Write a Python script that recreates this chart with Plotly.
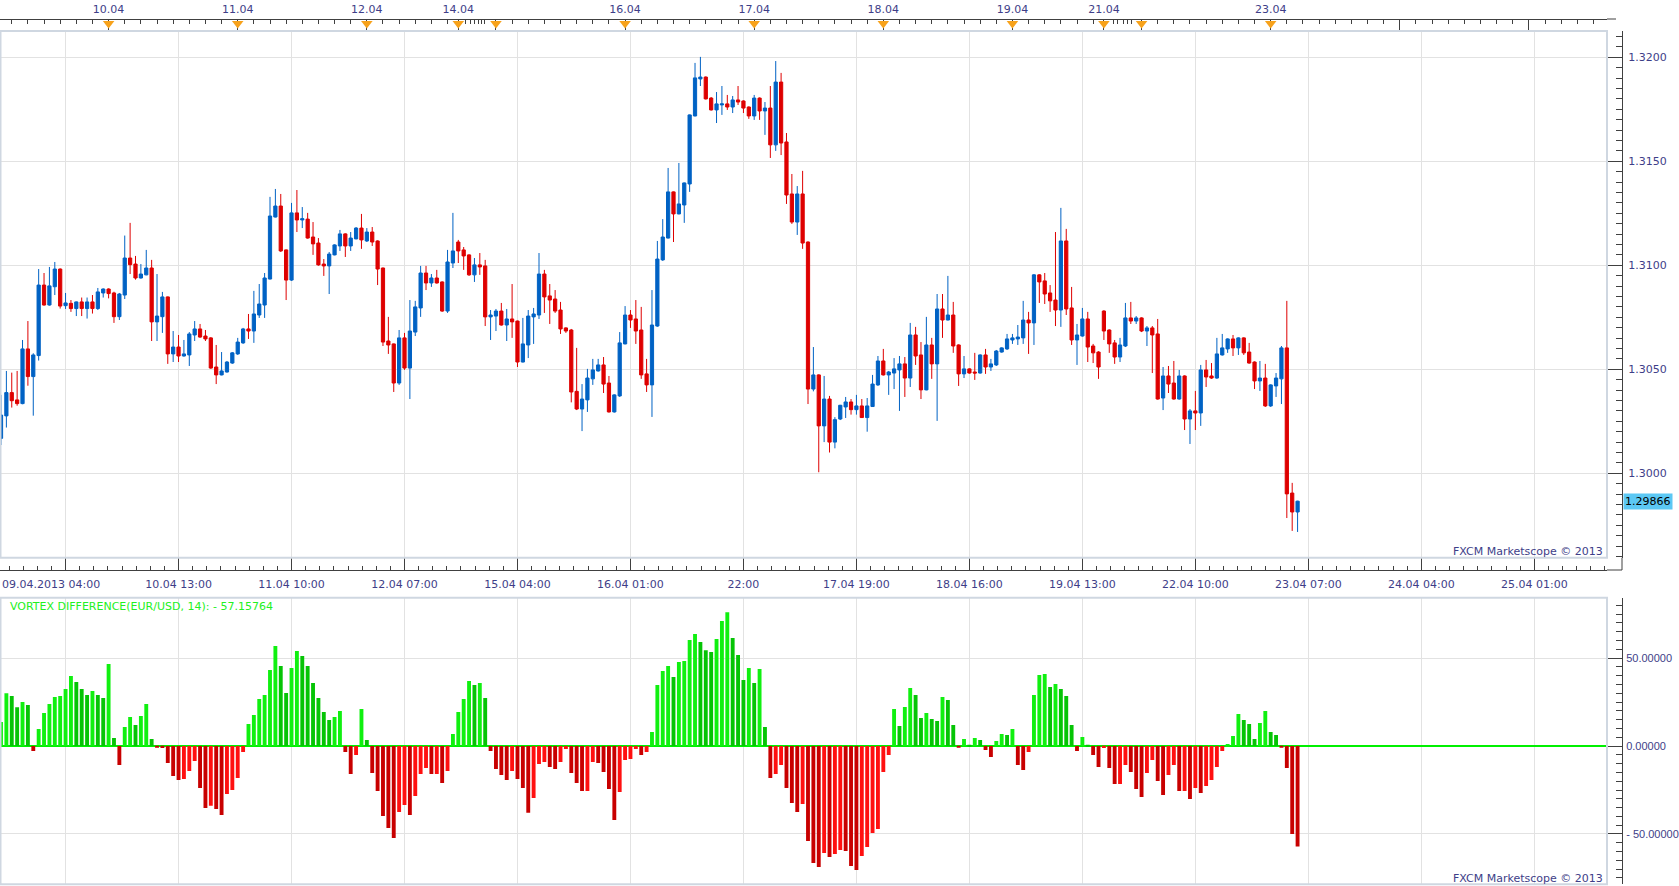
import plotly.graph_objects as go

W, H = 1679, 886

# ---------------- data (EUR/USD hourly, 09.04.2013 04:00 .. 23.04.2013) ----------------
opens = [1.30168, 1.30276, 1.30388, 1.30353, 1.30335, 1.30598, 1.30465, 1.30566, 1.30905, 1.30809,
         1.30897, 1.30982, 1.30806, 1.30817, 1.30792, 1.30824, 1.30792, 1.30824, 1.30792, 1.30867,
         1.30886, 1.30867, 1.30753, 1.30857, 1.31035, 1.31006, 1.30939, 1.30954, 1.30987, 1.30728,
         1.30753, 1.30848, 1.30574, 1.30607, 1.30564, 1.30569, 1.30665, 1.30694, 1.30660, 1.30651,
         1.30511, 1.30473, 1.30487, 1.30530, 1.30574, 1.30627, 1.30694, 1.30684, 1.30761, 1.30809,
         1.30934, 1.31232, 1.31285, 1.31074, 1.30929, 1.31252, 1.31218, 1.31222, 1.31136, 1.31107,
         1.31006, 1.30997, 1.31050, 1.31093, 1.31151, 1.31093, 1.31127, 1.31179, 1.31117, 1.31160,
         1.31117, 1.30987, 1.30636, 1.30622, 1.30434, 1.30651, 1.30506, 1.30679, 1.30795, 1.30963,
         1.30915, 1.30939, 1.30920, 1.30780, 1.31011, 1.31112, 1.31074, 1.31050, 1.30954, 1.31002,
         1.30997, 1.30752, 1.30756, 1.30780, 1.30713, 1.30742, 1.30732, 1.30535, 1.30617, 1.30752,
         1.30761, 1.30958, 1.30853, 1.30838, 1.30785, 1.30699, 1.30689, 1.30394, 1.30309, 1.30353,
         1.30454, 1.30492, 1.30521, 1.30434, 1.30295, 1.30372, 1.30622, 1.30761, 1.30742, 1.30689,
         1.30478, 1.30425, 1.30708, 1.31026, 1.31131, 1.31353, 1.31247, 1.31290, 1.31391, 1.31718,
         1.31896, 1.31905, 1.31804, 1.31747, 1.31771, 1.31776, 1.31761, 1.31795, 1.31790, 1.31761,
         1.31718, 1.31804, 1.31742, 1.31756, 1.31579, 1.31881, 1.31593, 1.31343, 1.31208, 1.31343,
         1.31112, 1.30405, 1.30473, 1.30228, 1.30357, 1.30150, 1.30261, 1.30319, 1.30343, 1.30306,
         1.30324, 1.30268, 1.30321, 1.30425, 1.30540, 1.30473, 1.30482, 1.30497, 1.30526, 1.30458,
         1.30665, 1.30569, 1.30401, 1.30617, 1.30526, 1.30790, 1.30737, 1.30761, 1.30617, 1.30478,
         1.30502, 1.30487, 1.30482, 1.30569, 1.30511, 1.30521, 1.30583, 1.30598, 1.30641, 1.30646,
         1.30651, 1.30737, 1.30723, 1.30954, 1.30925, 1.30867, 1.30833, 1.30785, 1.31117, 1.30795,
         1.30641, 1.30660, 1.30742, 1.30612, 1.30583, 1.30780, 1.30689, 1.30627, 1.30559, 1.30612,
         1.30747, 1.30732, 1.30747, 1.30684, 1.30699, 1.30670, 1.30362, 1.30468, 1.30434, 1.30357,
         1.30468, 1.30261, 1.30300, 1.30290, 1.30497, 1.30468, 1.30458, 1.30569, 1.30598, 1.30646,
         1.30603, 1.30651, 1.30583, 1.30535, 1.30444, 1.30458, 1.30324, 1.30420, 1.30454, 1.30603,
         1.29905, 1.29814]
highs = [1.30377, 1.30492, 1.30484, 1.30492, 1.30641, 1.30732, 1.30577, 1.30982, 1.30963, 1.30992,
         1.31016, 1.30985, 1.30867, 1.30833, 1.30826, 1.30845, 1.30845, 1.30857, 1.30891, 1.30889,
         1.30889, 1.30873, 1.30867, 1.31143, 1.31204, 1.31045, 1.31006, 1.31074, 1.31026, 1.30958,
         1.30872, 1.30850, 1.30684, 1.30665, 1.30641, 1.30679, 1.30732, 1.30718, 1.30689, 1.30655,
         1.30617, 1.30583, 1.30540, 1.30583, 1.30651, 1.30699, 1.30766, 1.30877, 1.30910, 1.30963,
         1.31329, 1.31367, 1.31343, 1.31076, 1.31300, 1.31362, 1.31280, 1.31252, 1.31208, 1.31131,
         1.31030, 1.31064, 1.31101, 1.31170, 1.31154, 1.31160, 1.31184, 1.31247, 1.31179, 1.31184,
         1.31120, 1.30989, 1.30752, 1.30624, 1.30689, 1.30675, 1.30833, 1.30829, 1.30997, 1.30997,
         1.30958, 1.30978, 1.30923, 1.31074, 1.31252, 1.31122, 1.31088, 1.31053, 1.31035, 1.31059,
         1.31026, 1.30785, 1.30790, 1.30819, 1.30790, 1.30910, 1.30734, 1.30747, 1.30785, 1.30795,
         1.31059, 1.30978, 1.30910, 1.30881, 1.30824, 1.30702, 1.30694, 1.30603, 1.30429, 1.30502,
         1.30550, 1.30550, 1.30559, 1.30468, 1.30380, 1.30679, 1.30804, 1.30785, 1.30833, 1.30800,
         1.30550, 1.30881, 1.31117, 1.31222, 1.31468, 1.31355, 1.31492, 1.31398, 1.31725, 1.31973,
         1.32002, 1.31908, 1.31809, 1.31833, 1.31862, 1.31819, 1.31814, 1.31862, 1.31793, 1.31764,
         1.31819, 1.31807, 1.31785, 1.31862, 1.31982, 1.31925, 1.31636, 1.31439, 1.31381, 1.31454,
         1.31115, 1.30607, 1.30476, 1.30468, 1.30372, 1.30270, 1.30329, 1.30367, 1.30357, 1.30377,
         1.30357, 1.30362, 1.30473, 1.30564, 1.30598, 1.30492, 1.30554, 1.30564, 1.30559, 1.30723,
         1.30704, 1.30631, 1.30752, 1.30651, 1.30862, 1.30862, 1.30949, 1.30824, 1.30620, 1.30564,
         1.30505, 1.30579, 1.30572, 1.30598, 1.30550, 1.30593, 1.30606, 1.30670, 1.30670, 1.30713,
         1.30829, 1.30776, 1.30958, 1.30957, 1.30963, 1.30905, 1.31160, 1.31276, 1.31175, 1.30896,
         1.30718, 1.30795, 1.30776, 1.30622, 1.30587, 1.30784, 1.30692, 1.30641, 1.30651, 1.30819,
         1.30824, 1.30756, 1.30750, 1.30708, 1.30708, 1.30742, 1.30511, 1.30516, 1.30540, 1.30497,
         1.30471, 1.30309, 1.30396, 1.30521, 1.30545, 1.30530, 1.30651, 1.30670, 1.30649, 1.30665,
         1.30654, 1.30654, 1.30627, 1.30538, 1.30540, 1.30526, 1.30428, 1.30482, 1.30612, 1.30829,
         1.29954, 1.29868]
lows = [1.30136, 1.30220, 1.30316, 1.30325, 1.30332, 1.30421, 1.30277, 1.30542, 1.30806, 1.30806,
        1.30857, 1.30792, 1.30790, 1.30776, 1.30756, 1.30756, 1.30744, 1.30768, 1.30785, 1.30845,
        1.30841, 1.30723, 1.30737, 1.30838, 1.30958, 1.30931, 1.30936, 1.30952, 1.30636, 1.30636,
        1.30675, 1.30526, 1.30535, 1.30535, 1.30561, 1.30516, 1.30636, 1.30651, 1.30636, 1.30502,
        1.30429, 1.30471, 1.30484, 1.30526, 1.30569, 1.30622, 1.30646, 1.30627, 1.30747, 1.30747,
        1.30932, 1.31230, 1.31064, 1.30833, 1.30925, 1.31160, 1.31179, 1.31128, 1.31050, 1.30998,
        1.30949, 1.30862, 1.31048, 1.31069, 1.31040, 1.31069, 1.31125, 1.31079, 1.31112, 1.31093,
        1.30905, 1.30612, 1.30574, 1.30391, 1.30425, 1.30497, 1.30357, 1.30660, 1.30752, 1.30881,
        1.30896, 1.30912, 1.30776, 1.30771, 1.30987, 1.31011, 1.30978, 1.30949, 1.30920, 1.30954,
        1.30708, 1.30641, 1.30684, 1.30710, 1.30636, 1.30651, 1.30511, 1.30533, 1.30554, 1.30622,
        1.30742, 1.30771, 1.30718, 1.30771, 1.30670, 1.30675, 1.30341, 1.30304, 1.30203, 1.30295,
        1.30425, 1.30489, 1.30386, 1.30292, 1.30292, 1.30367, 1.30620, 1.30699, 1.30622, 1.30454,
        1.30391, 1.30271, 1.30704, 1.31021, 1.31129, 1.31112, 1.31245, 1.31204, 1.31353, 1.31716,
        1.31862, 1.31797, 1.31744, 1.31684, 1.31723, 1.31747, 1.31732, 1.31771, 1.31732, 1.31704,
        1.31699, 1.31699, 1.31627, 1.31516, 1.31550, 1.31530, 1.31295, 1.31199, 1.31146, 1.31079,
        1.30333, 1.30394, 1.30005, 1.30150, 1.30100, 1.30120, 1.30256, 1.30266, 1.30282, 1.30282,
        1.30266, 1.30200, 1.30319, 1.30420, 1.30470, 1.30377, 1.30405, 1.30300, 1.30367, 1.30415,
        1.30521, 1.30357, 1.30399, 1.30454, 1.30252, 1.30651, 1.30735, 1.30579, 1.30420, 1.30458,
        1.30479, 1.30449, 1.30479, 1.30478, 1.30492, 1.30516, 1.30580, 1.30593, 1.30622, 1.30617,
        1.30622, 1.30574, 1.30617, 1.30819, 1.30814, 1.30776, 1.30708, 1.30704, 1.30761, 1.30617,
        1.30521, 1.30657, 1.30535, 1.30530, 1.30454, 1.30641, 1.30579, 1.30526, 1.30535, 1.30607,
        1.30718, 1.30718, 1.30679, 1.30612, 1.30482, 1.30354, 1.30304, 1.30386, 1.30354, 1.30354,
        1.30208, 1.30141, 1.30208, 1.30228, 1.30415, 1.30454, 1.30454, 1.30566, 1.30579, 1.30564,
        1.30569, 1.30569, 1.30527, 1.30405, 1.30396, 1.30319, 1.30319, 1.30367, 1.30333, 1.29785,
        1.29723, 1.29718]
closes = [1.30280, 1.30388, 1.30349, 1.30335, 1.30598, 1.30465, 1.30569, 1.30905, 1.30809, 1.30901,
          1.30982, 1.30804, 1.30819, 1.30792, 1.30824, 1.30792, 1.30824, 1.30792, 1.30872, 1.30886,
          1.30864, 1.30753, 1.30862, 1.31035, 1.31003, 1.30939, 1.30958, 1.30987, 1.30728, 1.30756,
          1.30848, 1.30574, 1.30607, 1.30564, 1.30574, 1.30670, 1.30694, 1.30655, 1.30646, 1.30506,
          1.30473, 1.30492, 1.30535, 1.30579, 1.30631, 1.30694, 1.30684, 1.30766, 1.30814, 1.30939,
          1.31237, 1.31285, 1.31069, 1.30929, 1.31252, 1.31218, 1.31224, 1.31131, 1.31103, 1.31002,
          1.30997, 1.31054, 1.31098, 1.31151, 1.31093, 1.31131, 1.31179, 1.31122, 1.31160, 1.31112,
          1.30982, 1.30631, 1.30617, 1.30434, 1.30651, 1.30506, 1.30684, 1.30800, 1.30963, 1.30915,
          1.30939, 1.30915, 1.30780, 1.31016, 1.31069, 1.31069, 1.31045, 1.30954, 1.31002, 1.30992,
          1.30752, 1.30761, 1.30780, 1.30713, 1.30742, 1.30728, 1.30535, 1.30622, 1.30756, 1.30766,
          1.30958, 1.30848, 1.30833, 1.30780, 1.30694, 1.30684, 1.30391, 1.30309, 1.30357, 1.30458,
          1.30497, 1.30521, 1.30429, 1.30295, 1.30377, 1.30627, 1.30761, 1.30737, 1.30684, 1.30473,
          1.30425, 1.30713, 1.31030, 1.31136, 1.31353, 1.31247, 1.31295, 1.31396, 1.31723, 1.31901,
          1.31905, 1.31800, 1.31747, 1.31776, 1.31776, 1.31761, 1.31795, 1.31785, 1.31756, 1.31718,
          1.31804, 1.31742, 1.31756, 1.31579, 1.31881, 1.31588, 1.31338, 1.31208, 1.31343, 1.31107,
          1.30405, 1.30473, 1.30228, 1.30357, 1.30150, 1.30258, 1.30327, 1.30343, 1.30306, 1.30324,
          1.30268, 1.30324, 1.30429, 1.30540, 1.30473, 1.30487, 1.30502, 1.30526, 1.30458, 1.30665,
          1.30564, 1.30401, 1.30617, 1.30526, 1.30790, 1.30737, 1.30761, 1.30612, 1.30478, 1.30502,
          1.30482, 1.30482, 1.30569, 1.30511, 1.30526, 1.30588, 1.30603, 1.30646, 1.30651, 1.30655,
          1.30737, 1.30723, 1.30954, 1.30920, 1.30862, 1.30829, 1.30785, 1.31117, 1.30790, 1.30641,
          1.30665, 1.30742, 1.30607, 1.30579, 1.30511, 1.30684, 1.30622, 1.30559, 1.30617, 1.30747,
          1.30732, 1.30747, 1.30684, 1.30699, 1.30665, 1.30357, 1.30468, 1.30429, 1.30357, 1.30468,
          1.30261, 1.30300, 1.30290, 1.30497, 1.30463, 1.30458, 1.30574, 1.30603, 1.30646, 1.30603,
          1.30651, 1.30579, 1.30530, 1.30444, 1.30458, 1.30324, 1.30425, 1.30458, 1.30603, 1.29901,
          1.29814, 1.29866]
vortex = [13.6, 30.0, 28.4, 22.0, 25.0, 23.3, -2.8, 9.7, 18.8, 23.9,
          27.8, 28.4, 32.4, 39.8, 36.4, 32.4, 29.0, 31.3, 29.0, 27.3,
          46.6, 4.5, -10.8, 10.8, 16.5, 11.9, 17.0, 23.9, 4.0, -0.6,
          -1.1, -9.7, -17.0, -19.3, -18.8, -14.2, -8.5, -23.9, -35.2, -34.0,
          -35.8, -39.2, -27.3, -25.0, -18.2, -3.4, 12.5, 17.6, 26.7, 29.0,
          43.2, 56.8, 45.5, 30.1, 44.3, 54.0, 51.1, 45.5, 35.8, 27.3,
          19.3, 14.8, 16.5, 19.9, -3.4, -15.9, -5.1, 21.0, 3.4, -15.3,
          -25.6, -39.8, -46.6, -52.3, -37.5, -33.5, -39.2, -28.4, -15.9, -12.5,
          -15.9, -15.9, -21.0, -14.2, 6.8, 19.3, 26.7, 36.9, 34.7, 35.8,
          27.3, -2.8, -13.1, -16.5, -19.3, -14.2, -18.8, -23.9, -38.0, -29.5,
          -10.2, -9.1, -11.9, -13.1, -9.1, -1.7, -15.3, -21.0, -25.6, -25.6,
          -9.1, -9.7, -14.8, -24.4, -42.0, -26.1, -8.0, -7.4, -1.7, -5.1,
          -3.4, 8.0, 34.7, 42.6, 45.5, 39.2, 47.7, 48.3, 60.2, 63.6,
          59.1, 54.5, 53.4, 60.8, 71.0, 76.1, 61.4, 51.7, 37.5, 44.3,
          35.8, 43.8, 10.8, -18.2, -15.9, -10.8, -23.9, -32.4, -37.5, -33.0,
          -54.0, -66.5, -68.8, -60.8, -63.1, -61.4, -59.1, -59.7, -68.2, -70.5,
          -62.5, -57.4, -49.4, -47.2, -14.8, -5.1, 21.0, 11.4, 22.2, 33.0,
          29.0, 15.9, 18.8, 15.3, 14.2, 27.8, 26.1, 11.9, -0.6, 4.0,
          0.6, 4.5, 3.4, -2.3, -6.3, 2.8, 6.8, 6.3, 9.7, -10.8,
          -13.6, -3.4, 29.0, 40.3, 40.9, 33.5, 35.2, 32.4, 28.4, 11.9,
          -2.8, 5.1, 0.6, -5.1, -11.9, -1.1, -12.5, -21.6, -21.6, -10.8,
          -14.8, -24.4, -29.0, -15.3, -8.0, -19.9, -27.8, -16.5, -10.8, -25.6,
          -25.6, -30.1, -23.9, -26.7, -22.7, -19.3, -11.9, -2.8, 1.1, 5.7,
          18.2, 14.8, 12.5, 4.0, 13.1, 19.9, 8.0, 6.3, -0.6, -12.5,
          -50.0, -57.16]

# time axis: bar index of gridlines / labels (hourly bars, weekend removed)
grid_idx = [12, 33, 54, 75, 96, 117, 138, 159, 180, 201, 222, 243, 264, 285]
grid_labels = ["", "10.04 13:00", "11.04 10:00", "12.04 07:00", "15.04 04:00", "16.04 01:00",
               "22:00", "17.04 19:00", "18.04 16:00", "19.04 13:00", "22.04 10:00",
               "23.04 07:00", "24.04 04:00", "25.04 01:00"]
first_label = "09.04.2013 04:00"
day_idx = [20, 44, 68, 85, 92, 116, 140, 164, 188, 205, 212, 236, 260, 284]
day_labels = ["10.04", "11.04", "12.04", "14.04", "", "16.04", "17.04", "18.04", "19.04",
              "21.04", "", "23.04", "", ""]
session_marks = [20, 44, 68, 85, 92, 116, 140, 164, 188, 205, 212, 236]
price_ticks = [1.3000, 1.3050, 1.3100, 1.3150, 1.3200]
ind_ticks = [-50, 0, 50]
ind_ticktext = ["- 50.00000", "0.00000", "50.00000"]
title_text = "VORTEX DIFFERENCE(EUR/USD, 14): - 57.15764"
copyright_text = "FXCM Marketscope © 2013"

# ---------------- styling / geometry ----------------
BLUE = "#0062C4"
RED = "#DE0000"
GRID = "#E2E2E2"
FRAME = "#CFD7E1"
AX = "#404040"
LABEL = "#3E3E88"
FONT = "DejaVu Sans, Verdana, sans-serif"
NARROW_FONT = "Liberation Sans, Arial, sans-serif"


def px(x):
    return x / W


def py(y):
    return 1 - y / H


BAR_PX = 5.38
x0 = -1.0 / BAR_PX
x1 = x0 + 1607 / BAR_PX
xr = [x0, x1]
xdom = [0, px(1607)]

price_top = 1.3200 + (57.3 - 31) / 20800
price_bot = 1.3200 - (557.7 - 57.3) / 20800

idx = list(range(len(closes)))

# histogram colours: bright when rising, dark when falling
bar_colors = []
for i, v in enumerate(vortex):
    prev = vortex[i - 1] if i > 0 else v - 1
    if v >= 0:
        bar_colors.append("#10F010" if v >= prev else "#05C405")
    else:
        bar_colors.append("#C80000" if v < prev else "#FF1010")

# minor ticks
minor_bottom = [12 + 2.625 * k for k in range(-4, 112) if k % 8 != 0]
minor_bottom = [t for t in minor_bottom if x0 <= t <= x1]
minor_top = [i for i in range(0, 299) if i % 3 == 2 and i not in day_idx
             and not (85 < i < 92) and not (205 < i < 212)]
minor_top += [86.4, 87.2, 88.0, 88.7, 89.3, 89.9, 206.7, 207.6, 208.7, 209.3, 210.2]

fig = go.Figure()

fig.add_trace(go.Candlestick(
    x=idx, open=opens, high=highs, low=lows, close=closes,
    increasing=dict(line=dict(color=BLUE, width=1), fillcolor=BLUE),
    decreasing=dict(line=dict(color=RED, width=1), fillcolor=RED),
    whiskerwidth=0, xaxis="x", yaxis="y", showlegend=False, hoverinfo="skip"))

fig.add_trace(go.Bar(
    x=idx, y=vortex, width=0.72,
    marker=dict(color=bar_colors, line=dict(width=0)),
    xaxis="x2", yaxis="y2", showlegend=False, hoverinfo="skip"))

fig.add_trace(go.Scatter(
    x=session_marks, y=[0.62] * len(session_marks), mode="markers",
    marker=dict(symbol="triangle-down", size=10, color="#F7A21B", line=dict(width=0)),
    xaxis="x5", yaxis="y5", cliponaxis=False, showlegend=False, hoverinfo="skip"))

# empty traces so that the bottom and top time axes get drawn
for ax_id in ("x3", "x4"):
    fig.add_trace(go.Scatter(x=[None], y=[None], mode="markers", xaxis=ax_id, yaxis="y",
                             showlegend=False, hoverinfo="skip"))

tickfont = dict(family=FONT, size=11, color=LABEL)

fig.update_layout(
    width=W, height=H,
    margin=dict(l=0, r=0, t=0, b=0, autoexpand=False),
    paper_bgcolor="white", plot_bgcolor="white",
    showlegend=False,
    boxgap=0.4, boxgroupgap=0,
    font=dict(family=FONT, size=11, color=LABEL),
    xaxis=dict(domain=xdom, range=xr, anchor="y", tickmode="array", tickvals=grid_idx,
               showticklabels=False, ticks="", showgrid=True, gridcolor=GRID, gridwidth=1,
               zeroline=False, showline=False, rangeslider=dict(visible=False), fixedrange=True),
    yaxis=dict(domain=[py(557.7), py(31)], range=[price_bot, price_top], anchor="free",
               position=px(1622), side="right", tickmode="array", tickvals=price_ticks,
               tickformat=".4f", ticks="inside", ticklen=15, tickwidth=1, tickcolor=AX,
               showline=True, linecolor=AX, linewidth=1, showgrid=True, gridcolor=GRID,
               zeroline=False, tickfont=tickfont, fixedrange=True, ticklabelstandoff=3,
               automargin=False,
               minor=dict(tick0=1.3, dtick=0.0005, ticks="inside", ticklen=6,
                          tickcolor=AX, showgrid=False)),
    xaxis2=dict(domain=xdom, range=xr, anchor="y2", tickmode="array", tickvals=grid_idx,
                showticklabels=False, ticks="", showgrid=True, gridcolor=GRID,
                zeroline=False, showline=False, fixedrange=True),
    yaxis2=dict(domain=[py(884.3), py(597.7)], range=[-78.6, 84.3], anchor="free",
                position=px(1622), side="right", tickmode="array", tickvals=ind_ticks,
                ticktext=ind_ticktext, ticks="inside", ticklen=15, tickcolor=AX,
                showline=True, linecolor=AX, linewidth=1, showgrid=True, gridcolor=GRID,
                zeroline=True, zerolinecolor="#00F000", zerolinewidth=1.5,
                tickfont=dict(family=NARROW_FONT, size=11, color=LABEL),
                fixedrange=True, ticklabelstandoff=1, automargin=False,
                minor=dict(tick0=0, dtick=5, ticks="inside", ticklen=6, tickcolor=AX,
                           showgrid=False)),
    xaxis3=dict(overlaying="x", anchor="free", position=py(570), side="bottom", range=xr,
                tickmode="array", tickvals=grid_idx, ticktext=grid_labels, ticks="inside",
                ticklen=12, tickcolor=AX, showline=True, linecolor=AX, linewidth=1,
                showgrid=False, zeroline=False, tickfont=tickfont, fixedrange=True,
                ticklabelstandoff=4, automargin=False,
                minor=dict(tickmode="array", tickvals=minor_bottom, ticks="inside",
                           ticklen=4, tickcolor=AX, showgrid=False)),
    xaxis4=dict(overlaying="x", anchor="free", position=py(19), side="top", range=xr,
                tickmode="array", tickvals=day_idx, ticktext=day_labels, ticks="inside",
                ticklen=12, tickcolor=AX, showline=True, linecolor=AX, linewidth=1,
                showgrid=False, zeroline=False, tickfont=tickfont, fixedrange=True,
                ticklabelstandoff=2, automargin=False,
                minor=dict(tickmode="array", tickvals=minor_top, ticks="inside",
                           ticklen=4, tickcolor=AX, showgrid=False)),
    xaxis5=dict(domain=xdom, range=xr, anchor="y5", visible=False, fixedrange=True),
    yaxis5=dict(domain=[py(31), py(19)], range=[0, 1], anchor="x5", visible=False,
                fixedrange=True),
)

shapes = [
    dict(type="rect", xref="paper", yref="paper", x0=px(0.5), x1=px(1607), y0=py(557.7),
         y1=py(31), line=dict(color=FRAME, width=2), fillcolor="rgba(0,0,0,0)", layer="above"),
    dict(type="rect", xref="paper", yref="paper", x0=px(0.5), x1=px(1607), y0=py(884.3),
         y1=py(597.7), line=dict(color=FRAME, width=2), fillcolor="rgba(0,0,0,0)", layer="above"),
    dict(type="line", xref="paper", yref="paper", x0=px(1622), x1=px(1622), y0=py(570),
         y1=py(557.7), line=dict(color=AX, width=1)),
    dict(type="line", xref="paper", yref="paper", x0=px(1607), x1=px(1622), y0=py(570),
         y1=py(570), line=dict(color=AX, width=1)),
    dict(type="line", xref="paper", yref="paper", x0=px(1607), x1=px(1616), y0=py(19),
         y1=py(19), line=dict(color=AX, width=1)),
]
fig.update_layout(shapes=shapes)

annotations = [
    dict(text=first_label, xref="paper", yref="paper", x=0, y=py(584), xanchor="left",
         yanchor="middle", showarrow=False, font=tickfont),
    dict(text=copyright_text, xref="paper", yref="paper", x=px(1605), y=py(551),
         xanchor="right", yanchor="middle", showarrow=False, font=tickfont),
    dict(text=copyright_text, xref="paper", yref="paper", x=px(1605), y=py(878),
         xanchor="right", yanchor="middle", showarrow=False, font=tickfont),
    dict(text=title_text, xref="paper", yref="paper", x=px(8), y=py(606), xanchor="left",
         yanchor="middle", showarrow=False, font=dict(family=FONT, size=11, color="#22F022")),
    dict(text=f"{closes[-1]:.5f}", xref="paper", yref="y", x=px(1622.5), y=closes[-1],
         xanchor="left", yanchor="middle", showarrow=False, bgcolor="#5CC8F4",
         borderpad=1, font=dict(family=FONT, size=11, color="#000000")),
]
fig.update_layout(annotations=annotations)

fig.write_html("out.html")
